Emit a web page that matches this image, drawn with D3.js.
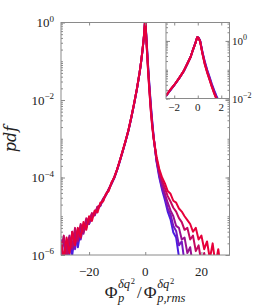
<!DOCTYPE html>
<html>
<head>
<meta charset="utf-8">
<script src="https://cdn.jsdelivr.net/npm/d3@7"></script>
<style>
  html, body { margin: 0; padding: 0; background: #fff; }
  svg { display: block; font-family: "Liberation Serif", "DejaVu Serif", serif; }
</style>
</head>
<body>
<div id="chart"></div>
<script>
// bin centres of the pdf (normalised fluctuation)
const xs = [-30,-29,-28,-27,-26,-25,-24,-23,-22,-21,-20,-19,-18,-17,-16,-15,-14,-13,-12,-11,-10,-9,-8,-7,-6,-5,-4,
  -3,-2.5,-2,-1.5,-1,-0.5,0,0.5,1,1.5,2,2.5,3,
  4,5,6,7,8,9,10,11,12,13,14,15,16,17,18,19,20,21,22,23,24,25,26,27,28,29,30];

// log10(pdf), one array per case (blue -> red); null = no samples
const logPdf1 = [-5.95,-5.55,-6.25,-5.65,-6.0,-5.45,-5.8,-5.35,-5.4,-5.15,-5.2,-4.95,-4.97,-4.76,-4.74,-4.55,-4.46,-4.3,-4.16,-4.01,
  -3.8,-3.57,-3.32,-3.07,-2.8,-2.47,-2.12,
  -1.74,-1.52,-1.3,-1.04,-0.74,-0.4,0.1,-0.48,-1.1,-1.64,-2.13,-2.56,-2.95,
  -3.58,-4.0,-4.32,-4.58,-4.88,-5.08,-5.42,-5.55,-6.05,-6.4,null,null,null,null,null,null,null,null,null,null,null,null,null,null,null,null,null];
const logPdf2 = [-5.6,-6.15,-5.65,-6.0,-5.4,-5.85,-5.35,-5.6,-5.25,-5.3,-5.05,-5.05,-4.88,-4.85,-4.68,-4.6,-4.43,-4.32,-4.15,-4.0,
  -3.8,-3.56,-3.32,-3.06,-2.79,-2.47,-2.11,
  -1.73,-1.51,-1.29,-1.03,-0.73,-0.39,0.11,-0.52,-1.14,-1.68,-2.18,-2.6,-2.97,
  -3.55,-3.95,-4.27,-4.48,-4.8,-4.95,-5.25,-5.38,-5.75,-5.65,-6.2,-6.4,null,null,null,null,null,null,null,null,null,null,null,null,null,null,null];
const logPdf3 = [-6.1,-5.6,-5.85,-5.5,-5.85,-5.4,-5.65,-5.25,-5.45,-5.1,-5.2,-4.95,-4.98,-4.78,-4.72,-4.56,-4.45,-4.3,-4.15,-3.99,
  -3.79,-3.56,-3.31,-3.06,-2.79,-2.46,-2.11,
  -1.73,-1.51,-1.29,-1.03,-0.73,-0.39,0.11,-0.55,-1.18,-1.72,-2.22,-2.64,-2.98,
  -3.55,-3.9,-4.18,-4.42,-4.65,-4.85,-5.0,-5.25,-5.3,-5.6,-5.55,-5.95,-5.8,-6.3,null,null,null,null,null,null,null,null,null,null,null,null,null];
const logPdf4 = [-5.9,-5.5,-6.05,-5.55,-5.8,-5.3,-5.6,-5.2,-5.4,-5.05,-5.15,-4.92,-4.95,-4.75,-4.72,-4.55,-4.45,-4.3,-4.15,-3.98,
  -3.79,-3.55,-3.31,-3.05,-2.78,-2.46,-2.1,
  -1.72,-1.5,-1.28,-1.02,-0.72,-0.38,0.12,-0.58,-1.22,-1.77,-2.27,-2.68,-3.0,
  -3.5,-3.85,-4.08,-4.28,-4.48,-4.62,-4.78,-4.88,-5.05,-5.15,-5.35,-5.3,-5.6,-5.5,-5.9,-5.75,-6.2,-5.95,-6.4,null,null,null,null,null,null,null,null];
const logPdf5 = [-5.65,-6.1,-5.55,-5.95,-5.4,-5.75,-5.3,-5.55,-5.15,-5.35,-5.0,-5.12,-4.85,-4.9,-4.65,-4.62,-4.42,-4.35,-4.12,-4.0,
  -3.78,-3.55,-3.3,-3.05,-2.78,-2.45,-2.1,
  -1.72,-1.5,-1.28,-1.02,-0.72,-0.38,0.12,-0.6,-1.25,-1.8,-2.3,-2.7,-3.0,
  -3.45,-3.78,-4.0,-4.15,-4.35,-4.42,-4.6,-4.65,-4.8,-4.88,-5.0,-5.1,-5.2,-5.4,-5.3,-5.6,-5.5,-5.85,-5.65,-6.1,-5.7,-6.25,-5.85,-6.4,null,null,null];

const seriesColors = ['#4a1ee0', '#7418c0', '#9a1090', '#c40860', '#e6003a'];

// inset: zoom on the core of the pdf
const insetXs = [-2.7,-2.4,-2.0,-1.6,-1.2,-0.9,-0.6,-0.4,-0.2,-0.05,0.05,0.2,0.4,0.6,0.8,1.0,1.2,1.4,1.6,1.8,2.0];
const insetLog1 = [-1.92,-1.75,-1.54,-1.31,-1.06,-0.81,-0.55,-0.3,-0.07,0.12,0.12,0.02,-0.38,-0.72,-1.0,-1.25,-1.5,-1.72,-1.92,-2.1,-2.28];
const insetLog2 = [-1.91,-1.74,-1.54,-1.31,-1.06,-0.81,-0.55,-0.3,-0.07,0.12,0.11,0.0,-0.4,-0.75,-1.03,-1.28,-1.53,-1.76,-1.96,-2.14,-2.32];
const insetLog3 = [-1.91,-1.74,-1.53,-1.3,-1.05,-0.8,-0.55,-0.3,-0.08,0.13,0.12,0.0,-0.42,-0.78,-1.06,-1.31,-1.56,-1.79,-1.99,-2.18,-2.36];
const insetLog4 = [-1.9,-1.73,-1.53,-1.3,-1.05,-0.8,-0.55,-0.3,-0.08,0.13,0.12,-0.01,-0.44,-0.8,-1.08,-1.33,-1.58,-1.81,-2.01,-2.2,-2.38];
const insetLog5 = [-1.9,-1.73,-1.53,-1.3,-1.05,-0.8,-0.55,-0.3,-0.08,0.13,0.1,-0.02,-0.45,-0.82,-1.1,-1.35,-1.6,-1.83,-2.03,-2.22,-2.4];

const xTicks = [-20, 0, 20];
const yDecades = [0, -2, -4, -6];
const insetXTicks = [-2, 0, 2];
const insetYDecades = [0, -2];

const W = 254, H = 305;
const axisGrey = '#8a8a8a';
const minus = s => String(s).replace('-', '\u2212');

const svg = d3.select('#chart').append('svg')
  .attr('width', W).attr('height', H)
  .attr('viewBox', `0 0 ${W} ${H}`);
svg.append('rect').attr('width', W).attr('height', H).attr('fill', '#fff');

// ---- main panel ----
const x = d3.scaleLinear().domain([-30, 30]).range([61, 229.5]);
const y = d3.scaleLog().domain([1e-6, 1]).range([255, 22.5]);

function minorLogTicks(lo, hi) {
  const out = [];
  for (let e = lo; e < hi; e++) for (let m = 1; m < 10; m++) out.push(m * Math.pow(10, e));
  out.push(Math.pow(10, hi));
  return out;
}

// boxed axes, ticks pointing inward on all four sides
function frameAxes(g, sx, sy, xt, yMinor, yMajor) {
  const [x0, x1] = sx.range(), [y0, y1] = sy.range();
  const ax = gen => g.append('g').call(gen).call(s => s.select('.domain').remove())
    .call(s => s.selectAll('line').attr('stroke', axisGrey));
  ax(d3.axisLeft(sy).tickValues(yMinor).tickSize(-2).tickFormat('')).attr('transform', `translate(${x0},0)`);
  ax(d3.axisLeft(sy).tickValues(yMajor).tickSize(-4).tickFormat('')).attr('transform', `translate(${x0},0)`);
  ax(d3.axisRight(sy).tickValues(yMinor).tickSize(-2).tickFormat('')).attr('transform', `translate(${x1},0)`);
  ax(d3.axisRight(sy).tickValues(yMajor).tickSize(-4).tickFormat('')).attr('transform', `translate(${x1},0)`);
  ax(d3.axisBottom(sx).tickValues(xt).tickSize(-3).tickFormat('')).attr('transform', `translate(0,${y0})`);
  ax(d3.axisTop(sx).tickValues(xt).tickSize(-3).tickFormat('')).attr('transform', `translate(0,${y1})`);
  g.append('rect')
    .attr('x', x0).attr('y', y1).attr('width', x1 - x0).attr('height', y0 - y1)
    .attr('fill', 'none').attr('stroke', axisGrey).attr('stroke-width', 1);
}

svg.append('clipPath').attr('id', 'clipMain').append('rect')
  .attr('x', 61).attr('y', 22.5).attr('width', 168.5).attr('height', 232.5);

const mainSeries = [logPdf1, logPdf2, logPdf3, logPdf4, logPdf5];
const curves = svg.append('g').attr('clip-path', 'url(#clipMain)');
mainSeries.forEach((vals, k) => {
  const gen = d3.line()
    .defined((d, i) => vals[i] !== null)
    .x(d => x(d))
    .y((d, i) => y(Math.pow(10, vals[i])));
  curves.append('path')
    .attr('d', gen(xs))
    .attr('fill', 'none')
    .attr('stroke', seriesColors[k])
    .attr('stroke-width', 2)
    .attr('stroke-linejoin', 'round');
});

const mainAxes = svg.append('g');
frameAxes(mainAxes, x, y, xTicks, minorLogTicks(-6, 0), yDecades.map(e => Math.pow(10, e)));

// y tick labels 10^e
mainAxes.selectAll('text.ylab').data(yDecades).join('text')
  .attr('class', 'ylab')
  .attr('x', 54).attr('y', e => y(Math.pow(10, e)) + 4.5)
  .attr('text-anchor', 'end').attr('font-size', 13).attr('fill', '#222')
  .each(function (e) {
    const t = d3.select(this);
    t.append('tspan').text('10');
    t.append('tspan').attr('dy', -5.5).attr('font-size', 9).text(minus(e));
  });

// x tick labels
mainAxes.selectAll('text.xlab').data(xTicks).join('text')
  .attr('class', 'xlab')
  .attr('x', d => x(d)).attr('y', 276)
  .attr('text-anchor', 'middle').attr('font-size', 13).attr('fill', '#222')
  .text(d => minus(d));

// y title
svg.append('text')
  .attr('transform', 'translate(16,139) rotate(-90)')
  .attr('text-anchor', 'middle')
  .attr('font-family', '"DejaVu Serif", serif')
  .attr('font-style', 'italic').attr('font-size', 16).attr('fill', '#222')
  .text('pdf');

// x title: Φ_p^{δq²} / Φ_{p,rms}^{δq²}
(function xTitle() {
  const g = svg.append('g').attr('fill', '#222');
  let cx = 0;
  const put = (txt, size, dy, italic, at) => {
    const t = g.append('text').attr('x', at).attr('y', 298 + dy)
      .attr('font-size', size).attr('font-style', italic ? 'italic' : 'normal').text(txt);
    return t.node().getComputedTextLength();
  };
  const phi = () => { cx += put('\u03A6', 17.5, 0, false, cx); };
  const stack = sub => {
    const x0 = cx + 0.5;
    let w1 = put('\u03B4q', 12.5, -10, true, x0);
    w1 += put('2', 8.5, -14.5, false, x0 + w1 + 0.8) + 0.8;
    const w2 = put(sub, 12.5, 3.5, true, x0);
    cx = x0 + Math.max(w1, w2);
  };
  phi(); stack('p');
  cx += 2; cx += put('/', 17, 0, false, cx); cx += 2;
  phi(); stack('p,rms');
  g.attr('transform', `translate(${145 - cx / 2},0)`);
})();

// ---- inset ----
const ix = d3.scaleLinear().domain([-2.7, 2.7]).range([166, 229.5]);
const iy = d3.scaleLog().domain([1e-2, Math.pow(10, 0.64)]).range([98.5, 22.5]);

const inset = svg.append('g');
inset.append('rect').attr('x', 166).attr('y', 22.5).attr('width', 63.5).attr('height', 76)
  .attr('fill', '#fff');
svg.append('clipPath').attr('id', 'clipInset').append('rect')
  .attr('x', 166).attr('y', 22.5).attr('width', 63.5).attr('height', 76);

const insetSeries = [insetLog1, insetLog2, insetLog3, insetLog4, insetLog5];
const icurves = inset.append('g').attr('clip-path', 'url(#clipInset)');
insetSeries.forEach((vals, k) => {
  const gen = d3.line()
    .x(d => ix(d))
    .y((d, i) => iy(Math.pow(10, vals[i])));
  icurves.append('path')
    .attr('d', gen(insetXs))
    .attr('fill', 'none')
    .attr('stroke', seriesColors[k])
    .attr('stroke-width', 2)
    .attr('stroke-linejoin', 'round');
});

const insetMinor = minorLogTicks(-2, 0).concat([2, 3, 4]);
frameAxes(inset, ix, iy, insetXTicks, insetMinor, insetYDecades.map(e => Math.pow(10, e)));

inset.selectAll('text.iylab').data(insetYDecades).join('text')
  .attr('class', 'iylab')
  .attr('x', 232).attr('y', e => iy(Math.pow(10, e)) + 4)
  .attr('font-size', 11).attr('fill', '#222')
  .each(function (e) {
    const t = d3.select(this);
    t.append('tspan').text('10');
    t.append('tspan').attr('dy', -5).attr('font-size', 8).text(minus(e));
  });

inset.selectAll('text.ixlab').data(insetXTicks).join('text')
  .attr('class', 'ixlab')
  .attr('x', d => ix(d)).attr('y', 111)
  .attr('text-anchor', 'middle').attr('font-size', 11).attr('fill', '#222')
  .text(d => minus(d));
</script>
</body>
</html>
